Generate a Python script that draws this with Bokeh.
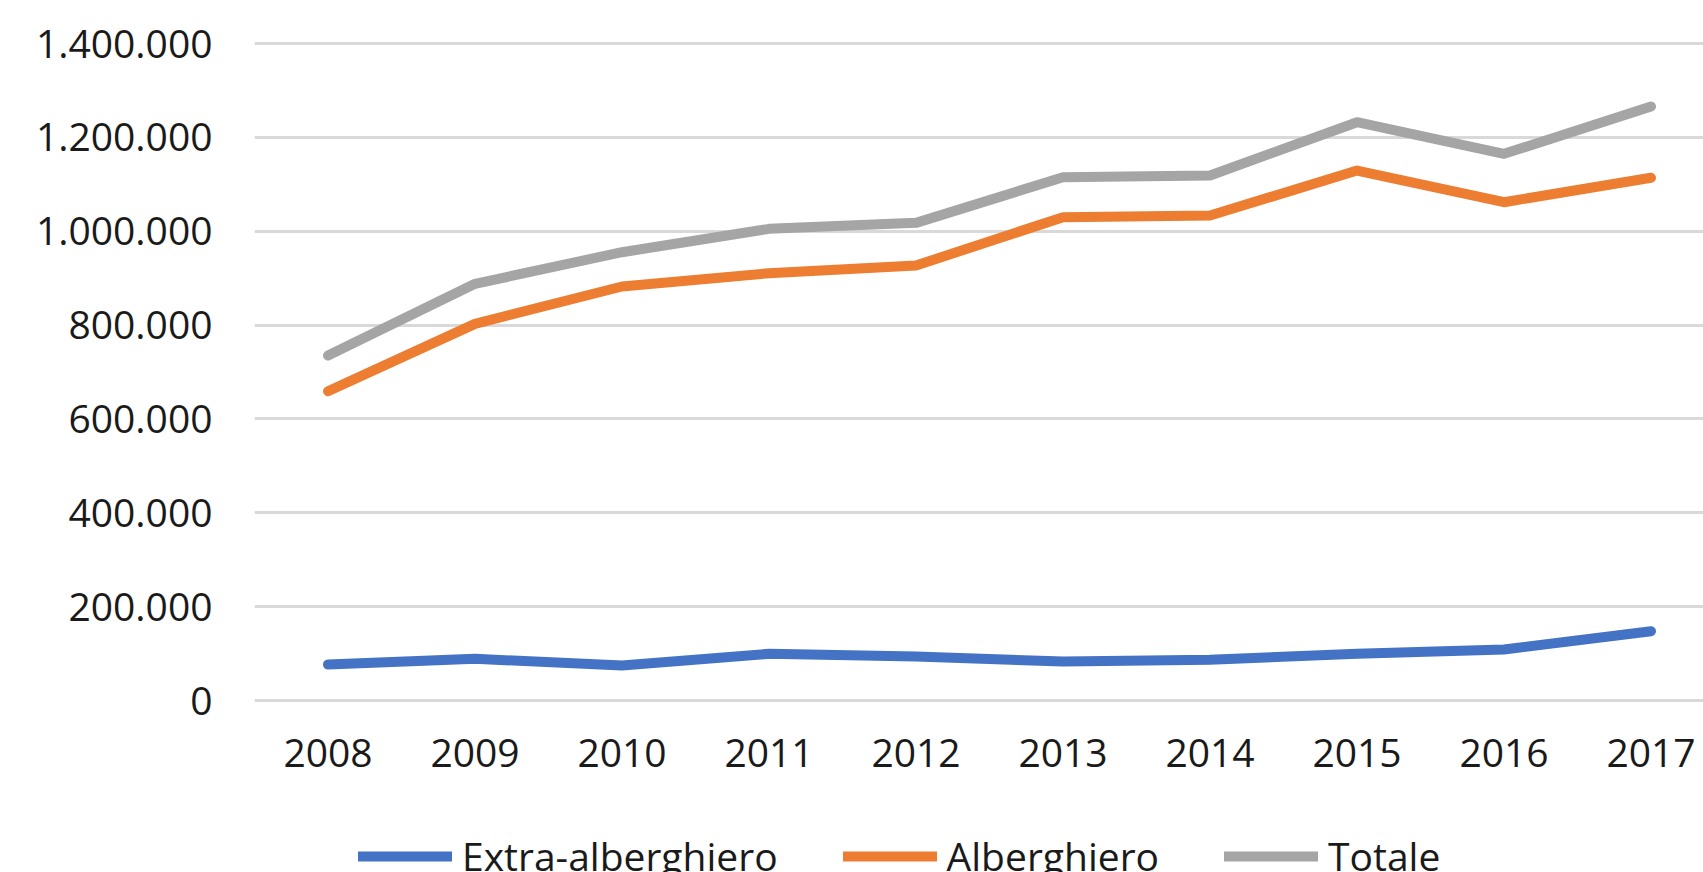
from bokeh.plotting import figure
from bokeh.models import Range1d, FixedTicker, Legend, LegendItem
from bokeh.embed import file_html
from bokeh.resources import INLINE

# ---- data ----
years = [2008, 2009, 2010, 2011, 2012, 2013, 2014, 2015, 2016, 2017]
extra_alberghiero = [76700, 88800, 74600, 99500, 93800, 83100, 86700, 99500, 108700, 147700]
alberghiero = [659100, 802700, 882200, 910600, 927000, 1030000, 1033500, 1129400, 1061900, 1113900]
totale = [735200, 888000, 955300, 1005100, 1017900, 1115000, 1118800, 1232400, 1165000, 1265800]
series_names = ["Extra-alberghiero", "Alberghiero", "Totale"]
series_colors = ["#4472C4", "#ED7D31", "#A5A5A5"]
y_ticks = [0, 200000, 400000, 600000, 800000, 1000000, 1200000, 1400000]

# ---- layout constants (pixels) ----
W, H = 1703, 872
border_left = 254
border_top = 20
frame_h = H - border_top
frame_w = W - border_left
band = 147.0              # px per category
px_per_200k = 93.85
zero_from_top = 680       # zero line offset from frame top

y_end = zero_from_top * 200000 / px_per_200k
y_start = -(frame_h - zero_from_top) * 200000 / px_per_200k
x_start = years[0] - 0.5
x_end = x_start + frame_w / band

FONT = "Open Sans"
TXT = "#1a1a1a"
FS = "39px"

p = figure(width=W, height=H, output_backend="svg", toolbar_location=None,
           x_range=Range1d(x_start, x_end), y_range=Range1d(y_start, y_end),
           min_border_left=border_left, min_border_right=0,
           min_border_top=border_top, min_border_bottom=0)
p.outline_line_color = None
p.background_fill_color = "white"
p.border_fill_color = "white"

# axes
p.xaxis.ticker = FixedTicker(ticks=years)
p.xaxis.major_label_overrides = {y: str(y) for y in years}
p.xaxis.fixed_location = 0
p.yaxis.ticker = FixedTicker(ticks=y_ticks)
p.yaxis.major_label_overrides = {v: f"{v:,}".replace(",", ".") for v in y_ticks}
for ax in (p.xaxis[0], p.yaxis[0]):
    ax.axis_line_color = None
    ax.major_tick_line_color = None
    ax.minor_tick_line_color = None
    ax.major_tick_out = 0
    ax.major_tick_in = 0
    ax.major_label_text_font = FONT
    ax.major_label_text_font_size = FS
    ax.major_label_text_color = TXT
p.xaxis.major_label_standoff = 38
p.yaxis.major_label_standoff = 42

p.xgrid.grid_line_color = None
p.ygrid.ticker = FixedTicker(ticks=y_ticks)
p.ygrid.grid_line_color = "#D9D9D9"
p.ygrid.grid_line_width = 3

renderers = []
for vals, name, col in zip([extra_alberghiero, alberghiero, totale], series_names, series_colors):
    r = p.line(years, vals, line_color=col, line_width=10,
               line_join="round", line_cap="round")
    renderers.append(r)

legend = Legend(items=[LegendItem(label=n, renderers=[r]) for n, r in zip(series_names, renderers)],
                orientation="horizontal", location=(104, -10),
                glyph_width=94, glyph_height=20, label_standoff=10, spacing=65,
                padding=0, margin=0, border_line_color=None,
                background_fill_alpha=0,
                label_text_font=FONT, label_text_font_size=FS,
                label_text_color=TXT)
p.add_layout(legend, "center")

open("out.html", "w").write(file_html(p, INLINE))
